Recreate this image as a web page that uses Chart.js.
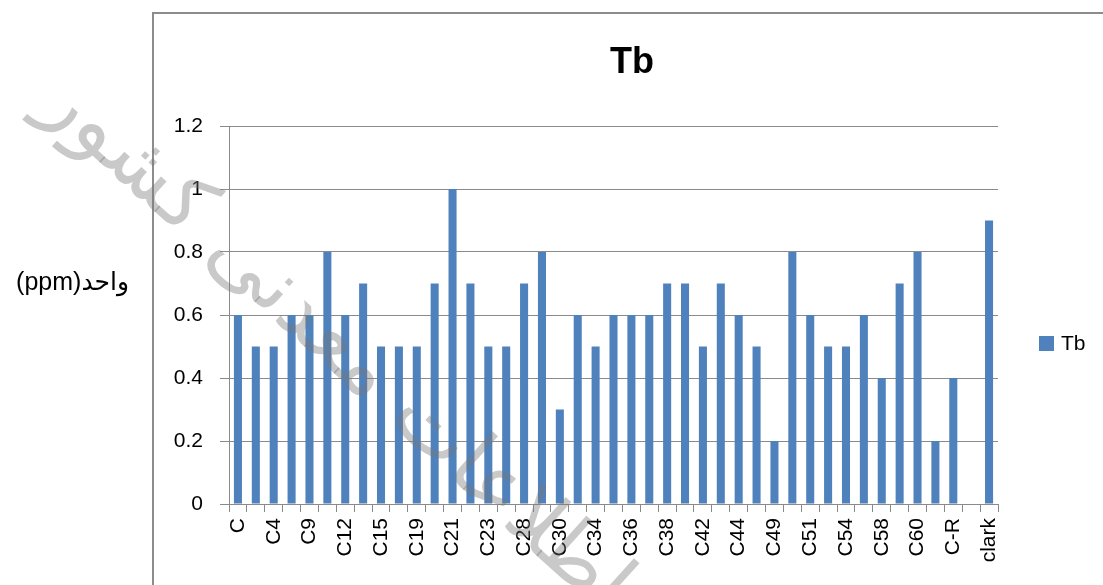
<!DOCTYPE html>
<html><head><meta charset="utf-8">
<script src="https://cdn.jsdelivr.net/npm/chart.js@4.4.1/dist/chart.umd.min.js"></script>
<style>html,body{margin:0;padding:0;background:#fff;overflow:hidden}#c{display:block}</style>
</head><body><canvas id="c" width="1103" height="585"></canvas>
<script>
const categories = ["C","C2","C4","C7","C9","C11","C12","C14","C15","C17","C19","C20","C21","C22","C23","C25","C28","C29","C30","C32","C34","C35","C36","C37","C38","C40","C42","C43","C44","C47","C49","C50","C51","C53","C54","C56","C58","C59","C60","C61","C-R","C-S","clark"];
const tbValues = [0.6,0.5,0.5,0.6,0.6,0.8,0.6,0.7,0.5,0.5,0.5,0.7,1.0,0.7,0.5,0.5,0.7,0.8,0.3,0.6,0.5,0.6,0.6,0.6,0.7,0.7,0.5,0.7,0.6,0.5,0.2,0.8,0.6,0.5,0.5,0.6,0.4,0.7,0.8,0.2,0.4,null,0.9];
const yTickValues = [0,0.2,0.4,0.6,0.8,1,1.2];
const seriesName = "Tb";
const chartTitle = "Tb";
const unitLabel = "واحد(ppm)";
const watermarkText = "اطلاعات معدنی کشور";

const BAR = "#4F81BD", GRID = "#8a8a8a", FONT = "'Liberation Sans', Arial, 'DejaVu Sans', sans-serif";

const decor = {
  id: "decor",
  beforeDraw(chart) {
    const ctx = chart.ctx;
    ctx.save();
    ctx.fillStyle = "#fff";
    ctx.fillRect(0, 0, chart.width, chart.height);
    ctx.strokeStyle = "#8c8c8c";
    ctx.lineWidth = 2;
    ctx.beginPath();
    ctx.moveTo(153, chart.height);
    ctx.lineTo(153, 13);
    ctx.lineTo(chart.width, 13);
    ctx.stroke();
    ctx.restore();
  },
  afterDraw(chart) {
    const ctx = chart.ctx;
    ctx.save();
    // title
    ctx.fillStyle = "#000";
    ctx.font = "bold 36px " + FONT;
    ctx.textAlign = "center";
    ctx.textBaseline = "alphabetic";
    ctx.fillText(chartTitle, 632, 73);
    // unit label
    ctx.font = "25px 'Liberation Sans', 'DejaVu Sans', sans-serif";
    ctx.direction = "rtl";
    ctx.textAlign = "right";
    ctx.textBaseline = "middle";
    ctx.fillText(unitLabel, 129, 283);
    ctx.direction = "ltr";
    // legend
    ctx.fillStyle = BAR;
    ctx.fillRect(1039, 336, 15, 15);
    ctx.fillStyle = "#000";
    ctx.textAlign = "left";
    ctx.font = "21px " + FONT;
    ctx.fillText(seriesName, 1061, 344);
    // watermark
    ctx.translate(335, 345);
    ctx.rotate(42 * Math.PI / 180);
    ctx.font = "90px 'DejaVu Sans', sans-serif";
    const w = ctx.measureText(watermarkText).width;
    const s = 760 / w;
    ctx.scale(s, s);
    ctx.direction = "rtl";
    ctx.textAlign = "center";
    ctx.textBaseline = "middle";
    ctx.fillStyle = "rgba(120,120,120,0.4)";
    ctx.fillText(watermarkText, 0, 0);
    ctx.restore();
  }
};

new Chart(document.getElementById("c"), {
  type: "bar",
  data: {
    labels: categories,
    datasets: [{
      label: seriesName,
      data: tbValues,
      backgroundColor: BAR,
      borderWidth: 0,
      barPercentage: 0.45,
      categoryPercentage: 1
    }]
  },
  options: {
    responsive: false,
    animation: false,
    events: [],
    layout: { padding: { left: 153, right: 105, top: 126, bottom: 0 } },
    plugins: { legend: { display: false }, title: { display: false }, tooltip: { enabled: false } },
    scales: {
      x: {
        afterFit(scale) { scale.height = 81; },
        offset: true,
        grid: { offset: true, drawOnChartArea: false, drawTicks: true, tickLength: 8, color: GRID, lineWidth: 1 },
        border: { color: GRID, width: 1 },
        ticks: {
          autoSkip: false, maxRotation: 90, minRotation: 90, padding: 6,
          color: "#000", font: { family: FONT, size: 21 },
          callback(v, i) { return i % 2 === 0 ? categories[i] : ""; }
        }
      },
      y: {
        afterFit(scale) { scale.width = 76; },
        min: 0, max: 1.2,
        afterBuildTicks(scale) { scale.ticks = yTickValues.map(v => ({ value: v })); },
        grid: { color: GRID, lineWidth: 1, tickLength: 9, drawTicks: true },
        border: { color: GRID, width: 1 },
        ticks: {
          padding: 17, color: "#000", font: { family: FONT, size: 21 },
          callback(v) { return String(+v.toFixed(1)); }
        }
      }
    }
  },
  plugins: [decor]
});
</script>
</body></html>
